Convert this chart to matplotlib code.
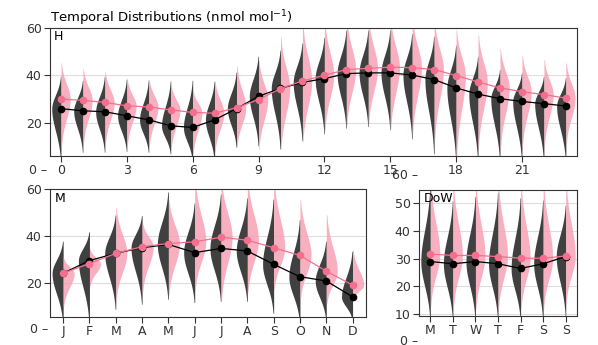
import numpy as np
import matplotlib.pyplot as plt

# hourly (H), monthly (M) and day-of-week (DoW) values, nmol/mol
hours = list(range(24))
h_black_mean = [26, 25.1, 24.7, 23, 21.3, 18.8, 18.1, 21.3, 26, 31.2, 34.5, 37,
                38.6, 40.7, 41, 41, 40.1, 38.2, 34.7, 32.1, 30.2, 29, 28.1, 27.1]
h_pink_mean = [30, 29.5, 28.6, 27.2, 26.7, 25.5, 24.4, 24.1, 26.4, 29.8, 34.4, 37.6,
               40, 42.4, 42.9, 43.4, 43.2, 42.4, 39.9, 37.2, 34.7, 33.1, 31.9, 30.4]
h_black_hi = [39.6, 37.9, 39.6, 38.4, 37.9, 37.6, 37.9, 37.5, 41.3, 48, 50.5, 53.5,
              55.9, 58.9, 59, 59, 57.5, 56.4, 52.6, 48, 42.4, 41, 39.6, 39]
h_black_lo = [4, 7.7, 7.7, 8.1, 7.7, 7, 4, 4, 9.8, 10.5, 9.1, 12.6,
              15.4, 17.8, 18.5, 17.1, 13.3, 7, 4, 4, 4, 4, 4, 4]
h_pink_hi = [45.2, 42.8, 41.4, 38.4, 38.3, 35.8, 33.7, 37.5, 44, 46, 56, 62,
             63, 64, 64, 64, 64, 63, 59, 56.8, 51.2, 48.4, 46.6, 45.2]
h_pink_lo = [10, 11, 11, 10.5, 10, 9, 7, 8, 10, 9, 9, 12,
             16.8, 19, 20, 17.5, 15.6, 12.6, 6, 10, 9, 10, 10, 11]
h_ticks = [0, 3, 6, 9, 12, 15, 18, 21]

months = ['J', 'F', 'M', 'A', 'M', 'J', 'J', 'A', 'S', 'O', 'N', 'D']
m_black_mean = [24, 29.4, 32.5, 34.9, 36.3, 32.8, 34.6, 33.5, 27.8, 22.5, 20.7, 13.9]
m_pink_mean = [24, 28.1, 32.5, 35.3, 36.7, 37.4, 39.4, 38.1, 34.9, 31.6, 24.9, 18.9]
m_black_hi = [37.7, 41.7, 48.9, 48.6, 58.7, 54, 57.9, 56.2, 55.7, 46.9, 37.7, 33.4]
m_black_lo = [3, 3, 8.6, 10.8, 12.9, 11.5, 12, 12, 6.9, 3, 4, 4]
m_pink_hi = [30.6, 34.2, 51.9, 45.5, 55.4, 64, 64, 64, 64, 55.4, 49, 34]
m_pink_lo = [10, 18.6, 13, 15.9, 14.9, 17, 12.9, 15.9, 17, 13, 11, 12.9]

days = ['M', 'T', 'W', 'T', 'F', 'S', 'S']
d_black_mean = [29, 28.2, 29, 28.2, 26.5, 28.2, 30.8]
d_pink_mean = [31.7, 31.2, 31.2, 30.8, 30.2, 30.2, 31]
d_black_hi = [56, 51, 52.5, 54, 52, 51.2, 49.3]
d_black_lo = [8, 8, 8, 8, 8, 8, 9]
d_pink_hi = [58, 58, 58, 58, 58, 58, 58]
d_pink_lo = [13, 12, 12, 12, 12, 12, 14]

DARK = '#404040'
PINK = '#f7a3b5'
PINK_PT = '#f2708e'
FS = 9


def half_violin(ax, x, mid, lo, hi, left, color, alpha=1.0):
    # split-normal profile, tapered to the extents
    y = np.linspace(lo, hi, 200)
    s = np.where(y < mid, (mid - lo) / 2.4, (hi - mid) / 2.4)
    w = 0.42 * np.exp(-0.5 * ((y - mid) / s) ** 2)
    if left:
        ax.fill_betweenx(y, x - w, x, color=color, lw=0, alpha=alpha, zorder=2)
    else:
        ax.fill_betweenx(y, x, x + w, color=color, lw=0, alpha=alpha, zorder=2)


def panel(ax, xs, bm, pm, bhi, blo, phi, plo):
    for i, x in enumerate(xs):
        half_violin(ax, x, bm[i], blo[i], bhi[i], True, DARK)
        half_violin(ax, x, pm[i], plo[i], phi[i], False, PINK, 0.85)
    ax.plot(xs, bm, color='black', lw=0.9, marker='o', ms=4.5, zorder=3)
    ax.plot(xs, pm, color=PINK_PT, lw=0.9, marker='o', ms=4.5, zorder=4)
    ax.grid(axis='y', color='#dddddd', lw=0.8)
    ax.set_axisbelow(True)
    for sp in ax.spines.values():
        sp.set_color('#333333')
    ax.tick_params(labelsize=FS, colors='#333333', length=4, pad=2)


def fake_tick(ax, val, label):
    # tick labels that sit outside the drawn frame
    ax.text(-0.005, val, label + ' \u2013', transform=ax.get_yaxis_transform(),
            ha='right', va='center', fontsize=FS, color='#333333', clip_on=False)


fig = plt.figure(figsize=(5.98, 3.45), dpi=100)
ax_h = fig.add_axes([0.0836, 0.549, 0.881, 0.371])
ax_m = fig.add_axes([0.0836, 0.0826, 0.528, 0.3696])
ax_d = fig.add_axes([0.7007, 0.0855, 0.2642, 0.365])

panel(ax_h, hours, h_black_mean, h_pink_mean, h_black_hi, h_black_lo, h_pink_hi, h_pink_lo)
ax_h.set_xlim(-0.5, 23.5)
ax_h.set_ylim(6.3, 60)
ax_h.set_xticks(h_ticks)
ax_h.set_yticks([20, 40, 60])
fake_tick(ax_h, 0, '0')
ax_h.text(0.008, 0.98, 'H', transform=ax_h.transAxes, ha='left', va='top', fontsize=FS)
ax_h.set_title('Temporal Distributions (nmol mol$^{-1}$)', fontsize=9.5, loc='left', pad=4)

xm = np.arange(len(months))
panel(ax_m, xm, m_black_mean, m_pink_mean, m_black_hi, m_black_lo, m_pink_hi, m_pink_lo)
ax_m.set_xlim(-0.5, 11.5)
ax_m.set_ylim(5.5, 60)
ax_m.set_xticks(xm)
ax_m.set_xticklabels(months)
ax_m.set_yticks([20, 40, 60])
fake_tick(ax_m, 0, '0')
ax_m.text(0.015, 0.98, 'M', transform=ax_m.transAxes, ha='left', va='top', fontsize=FS)

xd = np.arange(len(days))
panel(ax_d, xd, d_black_mean, d_pink_mean, d_black_hi, d_black_lo, d_pink_hi, d_pink_lo)
ax_d.set_xlim(-0.5, 6.5)
ax_d.set_ylim(9.5, 55)
ax_d.set_xticks(xd)
ax_d.set_xticklabels(days)
ax_d.set_yticks([10, 20, 30, 40, 50])
fake_tick(ax_d, 60, '60')
fake_tick(ax_d, 0, '0')
ax_d.text(0.03, 0.98, 'DoW', transform=ax_d.transAxes, ha='left', va='top', fontsize=FS)

fig.savefig('out.png', dpi=100)
